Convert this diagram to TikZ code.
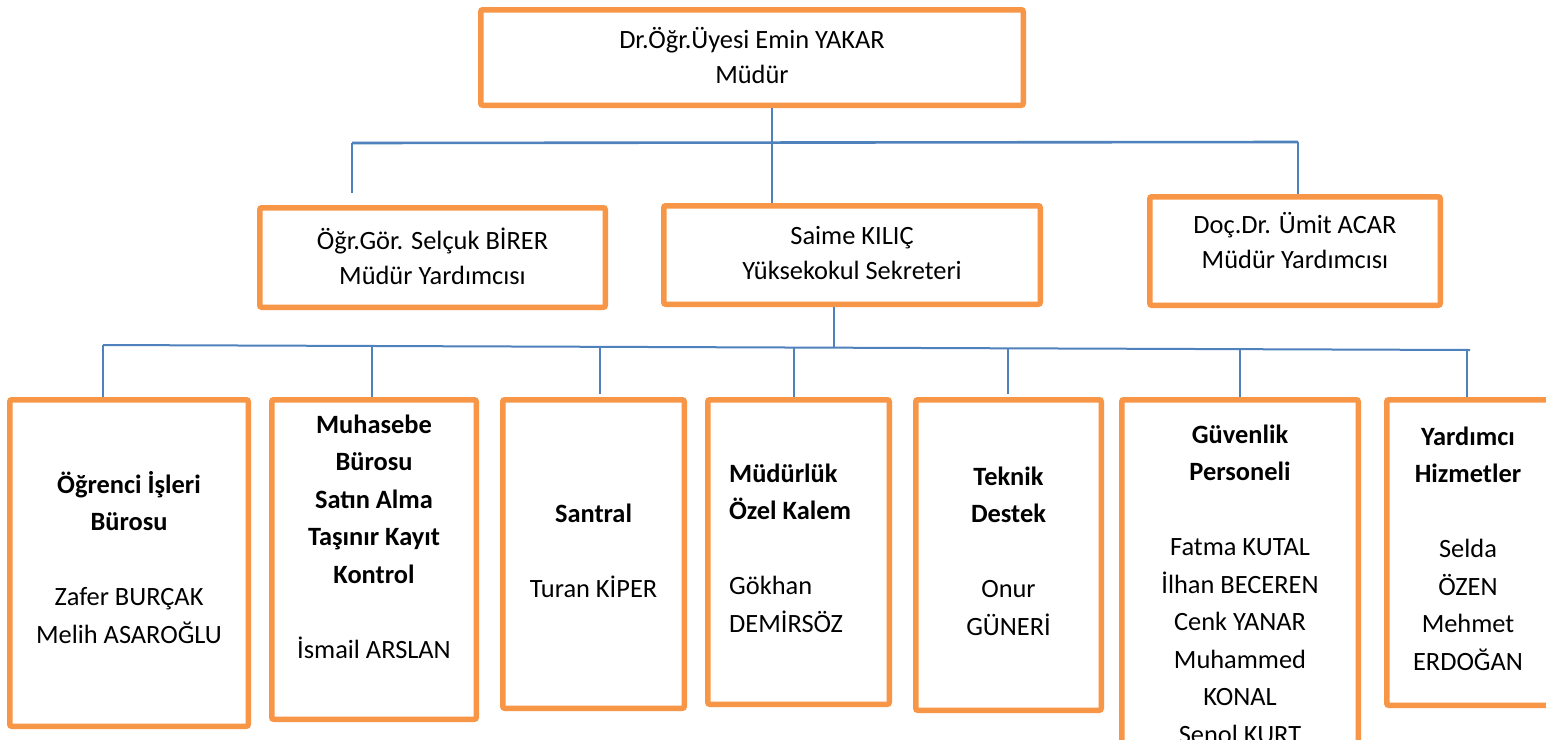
\documentclass[tikz,border=0pt]{standalone}
\usepackage{fontspec}
\setmainfont{Carlito}
\definecolor{orgline}{HTML}{F79646}
\definecolor{bluline}{HTML}{4F81BD}
\tikzset{
  box/.style={draw=orgline, line width=5.5pt, rounded corners=2pt, inner sep=0pt, rectangle},
  conn/.style={draw=bluline, line width=2pt},
  toptxt/.style={inner sep=0pt, align=center, anchor=north, font=\fontsize{26.4}{35}\selectfont},
  bottxt/.style={inner sep=0pt, align=center, anchor=north, font=\fontsize{26.4}{37.5}\selectfont},
}
\begin{document}
\begin{tikzpicture}[x=1pt,y=-1pt]
\useasboundingbox (0,0) rectangle (1546,739);
\fill[white] (0,0) rectangle (1546,739);
\clip (0,0) rectangle (1546,739);

% boxes
\node[box, minimum width=542.5pt, minimum height=95.5pt] (top) at (752,57.5) {};
\node[box, minimum width=345.5pt, minimum height=99.5pt] (og) at (432.5,257.5) {};
\node[box, minimum width=376.5pt, minimum height=98.5pt] (sk) at (852,255) {};
\node[box, minimum width=290.5pt, minimum height=108.5pt] (doc) at (1295,251) {};

\node[box, minimum width=238.5pt, minimum height=326.5pt] (b1) at (129,563) {};
\node[box, minimum width=204.5pt, minimum height=319.5pt] (b2) at (374,559.5) {};
\node[box, minimum width=181.5pt, minimum height=308.5pt] (b3) at (593.5,554) {};
\node[box, minimum width=181.5pt, minimum height=304.5pt] (b4) at (798.5,552) {};
\node[box, minimum width=185.5pt, minimum height=310.5pt] (b5) at (1008.5,555) {};
\node[box, minimum width=236.5pt, minimum height=397.5pt] (b6) at (1240,598.5) {};
\node[box, minimum width=162.5pt, minimum height=305.5pt] (b7) at (1468,552.5) {};

% texts
\node[toptxt] (t0) at (752,23.65) {\strut Dr.Öğr.Üyesi Emin YAKAR\\\strut Müdür};
\node[toptxt] (t1) at (432.5,224.65) {\strut Öğr.Gör. Selçuk BİRER\\\strut Müdür Yardımcısı};
\node[toptxt] (t2) at (852,219.65) {\strut Saime KILIÇ\\\strut Yüksekokul Sekreteri};
\node[toptxt] (t3) at (1295,208.65) {\strut Doç.Dr. Ümit ACAR\\\strut Müdür Yardımcısı};

\node[bottxt] (t4) at (129,466.9) {\strut\textbf{Öğrenci İşleri}\\\strut\textbf{Bürosu}\\\strut\\\strut Zafer BURÇAK\\\strut Melih ASAROĞLU};
\node[bottxt] (t5) at (374,406.9) {\strut\textbf{Muhasebe}\\\strut\textbf{Bürosu}\\\strut\textbf{Satın Alma}\\\strut\textbf{Taşınır Kayıt}\\\strut\textbf{Kontrol}\\\strut\\\strut İsmail ARSLAN};
\node[bottxt] (t6) at (593.5,495.9) {\strut\textbf{Santral}\\\strut\\\strut Turan KİPER};
\node[bottxt, anchor=north west, align=left] (t7) at (729,455.9) {\strut\textbf{Müdürlük}\\\strut\textbf{Özel Kalem}\\\strut\\\strut Gökhan\\\strut DEMİRSÖZ};
\node[bottxt] (t8) at (1008.5,458.9) {\strut\textbf{Teknik}\\\strut\textbf{Destek}\\\strut\\\strut Onur\\\strut GÜNERİ};
\node[bottxt] (t9) at (1240,416.9) {\strut\textbf{Güvenlik}\\\strut\textbf{Personeli}\\\strut\\\strut Fatma KUTAL\\\strut İlhan BECEREN\\\strut Cenk YANAR\\\strut Muhammed\\\strut KONAL\\\strut Şenol KURT};
\node[bottxt] (t10) at (1468,418.9) {\strut\textbf{Yardımcı}\\\strut\textbf{Hizmetler}\\\strut\\\strut Selda\\\strut ÖZEN\\\strut Mehmet\\\strut ERDOĞAN};

% upper connectors
\coordinate (jt) at (772,143);
\coordinate (ul) at (352,143);
\coordinate (ur) at (1298,142);
\coordinate (ule) at (352,193);
\draw[conn, line width=2.6pt] (ul) -- (ur);
\draw[conn] (top.south -| jt) -- (sk.north -| jt);
\draw[conn] (ul) -- (ule);
\draw[conn] (ur) -- (ur |- doc.north);

% lower connectors
\coordinate (js) at (834,347.7);
\coordinate (ll) at (103,345);
\coordinate (lr) at (1470,350);
\coordinate (s2) at (372,346);
\coordinate (s3) at (600,346.8);
\coordinate (s4) at (794,347.5);
\coordinate (s5) at (1008,348.3);
\coordinate (s6) at (1240,349.2);
\coordinate (s7) at (1467,350);
\coordinate (e3) at (600,394);
\coordinate (e5) at (1008,394);
\draw[conn] (sk.south -| js) -- (js);
\draw[conn] (ll) -- (lr);
\draw[conn] (ll) -- (ll |- b1.north);
\draw[conn] (s2) -- (s2 |- b2.north);
\draw[conn] (s3) -- (e3);
\draw[conn] (s4) -- (s4 |- b4.north);
\draw[conn] (s5) -- (e5);
\draw[conn] (s6) -- (s6 |- b6.north);
\draw[conn] (s7) -- (s7 |- b7.north);
\end{tikzpicture}
\end{document}
